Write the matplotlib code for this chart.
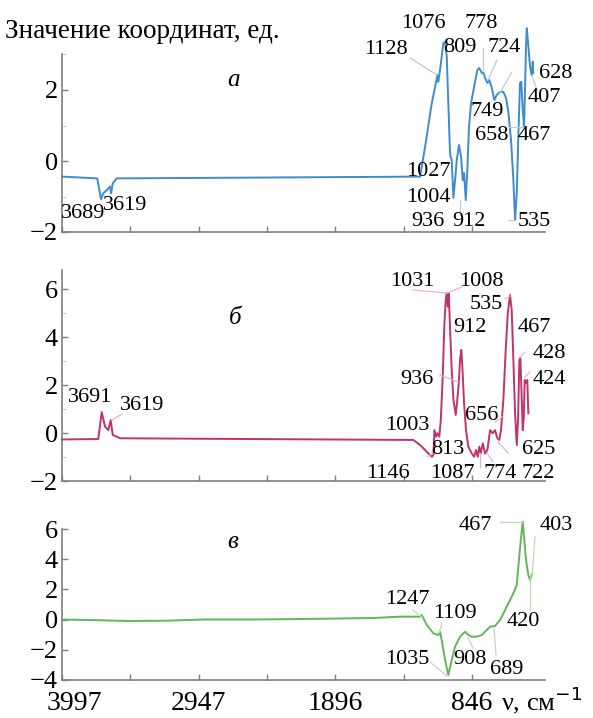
import numpy as np
import matplotlib
matplotlib.use("Agg")
import matplotlib.pyplot as plt
import matplotlib.transforms as mtransforms
from matplotlib.lines import Line2D

plt.rcParams['font.family'] = ['Liberation Serif', 'DejaVu Serif']

# ---- data (wavenumber, cm-1 / value) ----
nu_a = [3997, 3726, 3697, 3680, 3653, 3628, 3620, 3607, 3577,
        1245, 1207, 1155, 1122, 1112, 1105, 1092, 1066, 1053, 1040,
        1028, 1015, 1010, 1002, 989, 976, 963, 946, 930, 917,
        907, 894, 882, 869, 853, 830, 805, 790, 771, 759,
        746, 728, 713, 694, 674, 656, 630, 605, 584, 567,
        546, 528, 515, 502, 490, 477, 467, 456, 446, 438,
        431, 425, 415, 400, 387, 379, 375]
y_a = [-0.44, -0.49, -1.08, -0.91, -0.82, -0.72, -0.91, -0.63, -0.49,
       -0.44, 0.39, 1.63, 2.23, 2.42, 2.23, 2.56, 3.32, 3.36, 2.94,
       1.63, 0.23, 0.12, 0.03, -1.04, -0.54, 0.03, 0.45, 0.12, -0.54,
       -0.34, -1.10, -0.25, 0.97, 1.63, 2.09, 2.56, 2.62, 2.48, 2.49,
       2.34, 2.20, 2.28, 2.06, 1.72, 1.86, 1.95, 1.95, 1.77, 1.39,
       0.59, -0.54, -1.66, -0.90, 0.68, 2.20, 2.23, 1.44, 0.97, 2.09,
       3.22, 3.74, 3.32, 2.66, 2.42, 2.80, 2.48]

nu_b = [3997, 3718, 3692, 3666, 3641, 3623, 3607, 3551,
        1297, 1245, 1194, 1155, 1143, 1135, 1122, 1112, 1097, 1086,
        1071, 1059, 1048, 1040, 1032, 1025, 1015, 1002, 989, 971,
        959, 948, 938, 928, 920, 907, 892, 874, 848, 830,
        815, 802, 790, 779, 763, 746, 728, 707, 687, 669,
        651, 636, 623, 605, 587, 571, 554, 541, 528, 515,
        502, 492, 482, 474, 467, 456, 448, 441, 431, 421,
        413]
y_b = [-0.27, -0.25, 0.87, 0.26, 0.12, 0.54, -0.08, -0.22,
       -0.29, -0.50, -0.78, -0.99, -0.92, 0.12, -0.15, -0.01, -0.15, 0.54,
       2.35, 4.43, 5.54, 5.82, 5.26, 5.82, 4.43, 2.63, 1.38, 0.75,
       1.38, 2.07, 3.04, 3.46, 2.76, 1.24, 0.12, -0.57, -0.85, -0.99,
       -0.71, -0.99, -0.57, -0.85, -0.43, -0.85, -0.71, 0.12, -0.01, 0.12,
       -0.22, -0.29, 0.12, 1.38, 3.46, 4.99, 5.75, 5.13, 3.04, 0.82,
       -0.50, 0.54, 3.04, 3.11, 1.93, 0.12, 0.68, 2.21, 2.07, 2.21,
       0.82]

nu_c = [3997, 3700, 3500, 3200, 2900, 2500, 2000, 1600,
        1399, 1245, 1232, 1194, 1143, 1105, 1092, 1079, 1053, 1028,
        1002, 976, 938, 899, 874, 848, 810, 771, 733, 707,
        669, 630, 579, 528, 502, 490, 471, 456, 446, 431,
        413, 400, 392, 384]
y_c = [0.0, -0.05, -0.10, -0.08, 0.0, 0.0, 0.05, 0.10,
       0.19, 0.19, 0.30, -0.36, -0.92, -1.03, -0.81, -1.36, -2.69, -3.68,
       -2.69, -1.80, -1.14, -0.81, -1.03, -1.14, -1.14, -1.03, -0.70, -0.48,
       -0.43, -0.03, 0.85, 1.74, 2.29, 3.50, 5.28, 6.49, 5.49, 3.95,
       2.95, 2.62, 2.84, 3.00]

xtick_vals = [3997, 3472, 2947, 2421, 1896, 1371, 846]
xtick_labels = ['3997', '', '2947', '', '1896', '', '846']

# peak labels: text, x px, y px (label centres in the figure)
labels_a = [('3689', 83, 213), ('3619', 125, 206), ('1128', 386, 49),
            ('1076', 423, 24), ('809', 460, 48), ('778', 481, 24),
            ('724', 504, 48), ('628', 556, 73), ('407', 544, 98),
            ('749', 487, 111), ('658', 492, 136), ('467', 534, 136),
            ('1027', 428, 172), ('1004', 428, 197), ('936', 428, 221),
            ('912', 469, 221), ('535', 534, 221)]
labels_b = [('3691', 90, 397), ('3619', 142, 405), ('1031', 412, 281),
            ('1008', 481, 281), ('535', 486, 304), ('912', 470, 328),
            ('467', 534, 328), ('428', 549, 353), ('424', 549, 379),
            ('936', 417, 379), ('656', 482, 415), ('1003', 407, 425),
            ('813', 448, 449), ('625', 539, 449), ('1146', 388, 474),
            ('1087', 452, 474), ('774', 500, 474), ('722', 538, 474)]
labels_c = [('467', 475, 525), ('403', 556, 525), ('1247', 407, 600),
            ('1109', 455, 614), ('420', 523, 622), ('1035', 407, 660),
            ('908', 470, 660), ('689', 507, 669)]

# leader lines (x1, y1, x2, y2) in px
leaders_a = [(410, 58, 437, 75), (483, 48, 483, 70), (497, 60, 488, 80),
             (500, 93, 512, 72), (532, 76, 537, 90), (508, 127, 522, 127),
             (460, 200, 460, 215), (508, 220, 515, 220)]
leaders_b = [(413, 290, 447, 293), (447, 293, 462, 287), (505, 299, 510, 296),
             (440, 375, 458, 382), (495, 422, 502, 417), (427, 457, 433, 453),
             (498, 442, 508, 453), (520, 357, 525, 352), (525, 377, 530, 372),
             (112, 420, 122, 414), (480, 453, 480, 467), (487, 453, 493, 462)]
leaders_c = [(500, 522, 522, 522), (535, 537, 532, 577), (413, 610, 422, 617),
             (442, 623, 439, 633), (530, 577, 530, 610), (430, 662, 447, 676),
             (468, 638, 473, 648), (496, 655, 494, 628)]

W, H = 593, 718
fig = plt.figure(figsize=(W / 100, H / 100), dpi=100)

axis_color = '#7f7f7f'
panels = [
    # x, y, colour, leader colour, ylim, spine top, major, minor,
    # (px of y=0, px per unit), letter, letter pos, labels, leaders
    (nu_a, y_a, '#3f8ccc', '#b9cbdc', (-2, 3.9), 3, [-2, 0, 2], [-1, 1, 3],
     (161, 35.5), 'а', (234, 80), labels_a, leaders_a),
    (nu_b, y_b, '#c0336c', '#e9b3c6', (-2, 7), 6.8, [-2, 0, 2, 4, 6], [-1, 1, 3, 5],
     (433, 24.0), 'б', (235, 318), labels_b, leaders_b),
    (nu_c, y_c, '#62b657', '#bddcb5', (-4, 6.6), 6, [-4, -2, 0, 2, 4, 6], [],
     (619.5, 15.07), 'в', (233, 542), labels_c, leaders_c),
]

left_px, right_px = 62, 545
axes = []
for (xs, ys, col, lcol, ylim, ytop, major, minor, (zero_px, unit_px),
     letter, letter_pos, labels, leaders) in panels:
    top_px = zero_px - ylim[1] * unit_px
    bot_px = zero_px - ylim[0] * unit_px
    ax = fig.add_axes([left_px / W, 1 - bot_px / H,
                       (right_px - left_px) / W, (bot_px - top_px) / H])
    ax.plot(xs, ys, color=col, lw=1.4, clip_on=False, zorder=3)
    ax.set_xlim(3997, 285)
    ax.set_ylim(ylim[0], ylim[1])
    ax.spines['top'].set_visible(False)
    ax.spines['right'].set_visible(False)
    ax.spines['left'].set_bounds(ylim[0], ytop)
    for s in ('left', 'bottom'):
        ax.spines[s].set_color(axis_color)
        ax.spines[s].set_linewidth(1.2)
    ax.set_yticks(major)
    ax.set_yticks(minor, minor=True)
    ax.set_yticklabels(['\u2212%d' % -v if v < 0 else '%d' % v for v in major])
    ax.set_xticks(xtick_vals)
    ax.set_xticklabels([])
    ax.tick_params(direction='in', length=4, width=1, color=axis_color,
                   labelsize=19, pad=3)
    ax.tick_params(axis='x', labelsize=20, pad=8)
    ax.tick_params(which='minor', direction='in', length=3, width=0.8,
                   color='#cfcfcf')
    ax.patch.set_alpha(0)

    fig.text(letter_pos[0] / W, 1 - letter_pos[1] / H, letter, fontsize=18,
             style='italic', ha='center', va='center')
    for t, x, y in labels:
        fig.text(x / W, 1 - y / H, t, fontsize=16, ha='center', va='center')
    for x1, y1, x2, y2 in leaders:
        fig.add_artist(Line2D([x1 / W, x2 / W], [1 - y1 / H, 1 - y2 / H],
                              color=lcol, lw=0.9, transform=fig.transFigure))
    axes.append(ax)

axes[-1].set_xticklabels(xtick_labels)
# first x label sits a bit to the right of its tick, clear of the "-4"
first = axes[-1].get_xticklabels()[0]
first.set_transform(first.get_transform() +
                    mtransforms.ScaledTranslation(12 / 100, 0, fig.dpi_scale_trans))

fig.text(5 / W, 1 - 31 / H, 'Значение координат, ед.', fontsize=19.5,
         ha='left', va='center')
fig.text(542 / W, 1 - 700 / H, 'ν, см$^{-1}$', fontsize=19,
         ha='center', va='center')

fig.savefig('out.png', dpi=100)
